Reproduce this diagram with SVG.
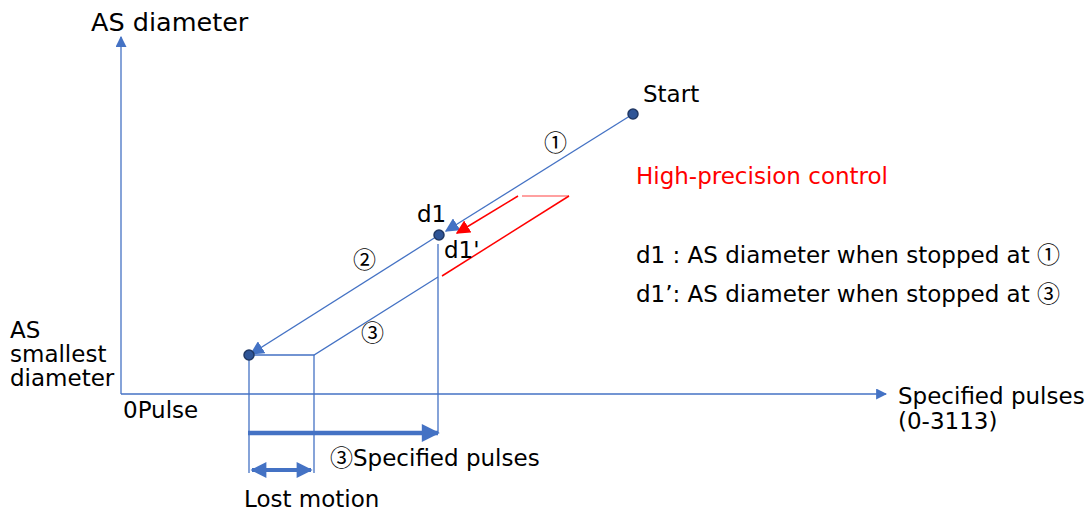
<svg xmlns="http://www.w3.org/2000/svg" width="1089" height="513" viewBox="0 0 1089 513">
<defs>
<style>
text{font-family:"DejaVu Sans","Noto Sans CJK JP",sans-serif;font-size:23px;fill:#000}
.c{font-family:"Noto Sans CJK JP",sans-serif}
.ln{stroke:#4472C4;stroke-width:1.3;fill:none}
.red{stroke:#FF0000;stroke-width:1.5;fill:none}
.dot{fill:#2F5597;stroke:#203864;stroke-width:1.5}
</style>
<marker id="ab" viewBox="0 0 10 10" refX="9" refY="5" markerWidth="11" markerHeight="11" markerUnits="userSpaceOnUse" orient="auto"><path d="M0,0 L10,5 L0,10 z" fill="#4472C4"/></marker>
<marker id="ab2" viewBox="0 0 10 10" refX="9" refY="5" markerWidth="14" markerHeight="14" markerUnits="userSpaceOnUse" orient="auto"><path d="M0,0 L10,5 L0,10 z" fill="#4472C4"/></marker>
<marker id="abs" viewBox="0 0 10 10" refX="9" refY="5" markerWidth="5" markerHeight="4" orient="auto"><path d="M0,0 L10,5 L0,10 z" fill="#4472C4"/></marker>
<marker id="abss" viewBox="0 0 10 10" refX="1" refY="5" markerWidth="5" markerHeight="4" orient="auto"><path d="M10,0 L0,5 L10,10 z" fill="#4472C4"/></marker>
<marker id="ar" viewBox="0 0 10 10" refX="9" refY="5" markerWidth="14" markerHeight="14" markerUnits="userSpaceOnUse" orient="auto"><path d="M0,0 L10,5 L0,10 z" fill="#FF0000"/></marker>
</defs>
<g id="connectors">
<line id="y-axis" class="ln" x1="121" y1="394" x2="121" y2="37" marker-end="url(#ab)"/>
<line id="x-axis" class="ln" x1="121" y1="394" x2="886" y2="394" marker-end="url(#ab)"/>
<line id="path1" class="ln" x1="633" y1="114" x2="446" y2="231" marker-end="url(#ab2)"/>
<line id="path2" class="ln" x1="439" y1="235" x2="251" y2="354" marker-end="url(#ab2)"/>
<polyline id="path3" class="ln" points="249,355 314,355 438,277"/>
<line class="ln" x1="249" y1="355" x2="249" y2="473"/>
<line class="ln" x1="314" y1="355" x2="314" y2="473"/>
<line class="ln" x1="438" y1="244" x2="438" y2="433"/>
<line id="spec-arrow" x1="248" y1="433" x2="438" y2="433" stroke="#4472C4" stroke-width="4.5" marker-end="url(#abs)"/>
<line id="lost-arrow" x1="252" y1="470" x2="311" y2="470" stroke="#4472C4" stroke-width="4" marker-start="url(#abss)" marker-end="url(#abs)"/>
<line class="red" x1="518" y1="196" x2="457" y2="233" marker-end="url(#ar)"/>
<line x1="522" y1="196" x2="569" y2="196" stroke="#FF8080" stroke-width="1.3"/>
<line class="red" x1="569" y1="196" x2="442" y2="276"/>
</g>
<g id="node-start"><circle class="dot" cx="633" cy="114" r="5"/><text x="643" y="102">Start</text></g>
<g id="node-d1"><circle class="dot" cx="439" cy="235" r="5"/><text x="417" y="222">d1</text><text x="444" y="258">d1'</text></g>
<g id="node-smallest"><circle class="dot" cx="249" cy="355" r="5"/></g>
<g id="labels">
<text x="91" y="31" style="font-size:25.5px">AS diameter</text>
<text x="544" y="151" class="c">①</text>
<text x="353" y="268" class="c">②</text>
<text x="361" y="341" class="c">③</text>
<text x="636" y="184" style="fill:#FF0000">High-precision control</text>
<text x="636" y="263">d1 : AS diameter when stopped at <tspan class="c">①</tspan></text>
<text x="636" y="302">d1’: AS diameter when stopped at <tspan class="c">③</tspan></text>
<text x="10" y="338">AS</text>
<text x="10" y="362">smallest</text>
<text x="10" y="386">diameter</text>
<text x="123" y="418">0Pulse</text>
<text x="898" y="404">Specified pulses</text>
<text x="898" y="429">(0-3113)</text>
<text x="330" y="466"><tspan class="c">③</tspan>Specified pulses</text>
<text x="244" y="507">Lost motion</text>
</g>
</svg>
